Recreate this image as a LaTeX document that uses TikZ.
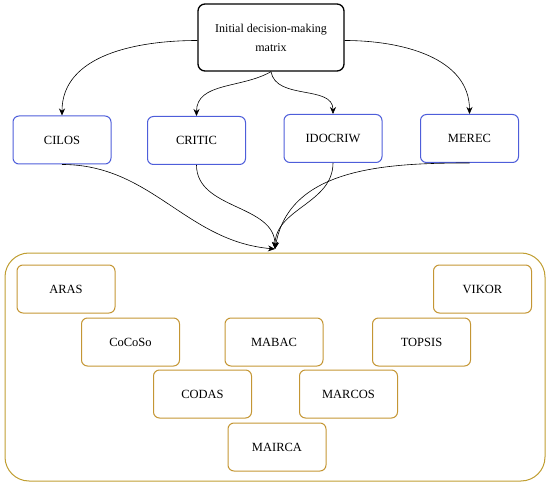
\documentclass[tikz,border=0pt]{standalone}
\usepackage{fontspec}
\setmainfont{Liberation Serif}
\usepackage{xcolor}
\usepackage{tikz}
\usetikzlibrary{arrows.meta}
\definecolor{weightblue}{RGB}{78,94,218}
\definecolor{rankgold}{RGB}{196,150,52}
\definecolor{groupgold}{RGB}{192,158,50}

\begin{document}
\begin{tikzpicture}[x=1pt, y=1pt,
    matrixbox/.style={rectangle, draw, line width=1.3pt, rounded corners=7pt, minimum width=146pt, minimum height=67pt, align=center, font=\fontsize{12}{19}\selectfont},
    weightbox/.style={rectangle, draw=weightblue, line width=1pt, rounded corners=6pt, minimum width=98pt, minimum height=48pt, font=\fontsize{12.5}{14}\selectfont},
    rankbox/.style={rectangle, draw=rankgold, line width=1pt, rounded corners=6pt, minimum width=98pt, minimum height=48pt, font=\fontsize{12.5}{14}\selectfont},
    groupbox/.style={rectangle, draw=groupgold, line width=1pt, rounded corners=24pt, minimum width=540pt, minimum height=228pt},
    arrow/.style={-{Stealth[length=7pt, width=6pt]}, line width=0.6pt}
]
\useasboundingbox (0,0) rectangle (550,-487);

\node[matrixbox] (init) at (271,-37.5) {Initial decision-making\\matrix};

\node[weightbox] (cilos) at (62,-140) {CILOS};
\node[weightbox] (critic) at (196.5,-140.5) {CRITIC};
\node[weightbox] (idocriw) at (333,-138.5) {IDOCRIW};
\node[weightbox] (merec) at (469.5,-138.5) {MEREC};

\node[groupbox] (group) at (275,-367) {};
\coordinate (hub) at (275,-249);

\node[rankbox] (aras) at (66,-289) {ARAS};
\node[rankbox] (vikor) at (482.5,-289) {VIKOR};
\node[rankbox] (cocoso) at (130.5,-342) {CoCoSo};
\node[rankbox] (mabac) at (274,-342) {MABAC};
\node[rankbox] (topsis) at (421.5,-342) {TOPSIS};
\node[rankbox] (codas) at (202.5,-394) {CODAS};
\node[rankbox] (marcos) at (348.5,-394) {MARCOS};
\node[rankbox] (mairca) at (277,-447) {MAIRCA};

\draw[arrow] ([yshift=-3pt]init.west) to[out=180, in=90] (cilos.north);
\draw[arrow] (init.south) to[out=-150, in=90] (critic.north);
\draw[arrow] (init.south) to[out=-80, in=90] (idocriw.north);
\draw[arrow] ([yshift=-3pt]init.east) to[out=0, in=90] (merec.north);

\draw[arrow] (cilos.south) to[out=0, in=175] (hub);
\draw[arrow] (critic.south) to[out=-90, in=90] (hub);
\draw[arrow] (idocriw.south) to[out=-90, in=90] (hub);
\draw[arrow] (merec.south) to[out=180, in=80] (hub);
\end{tikzpicture}
\end{document}
